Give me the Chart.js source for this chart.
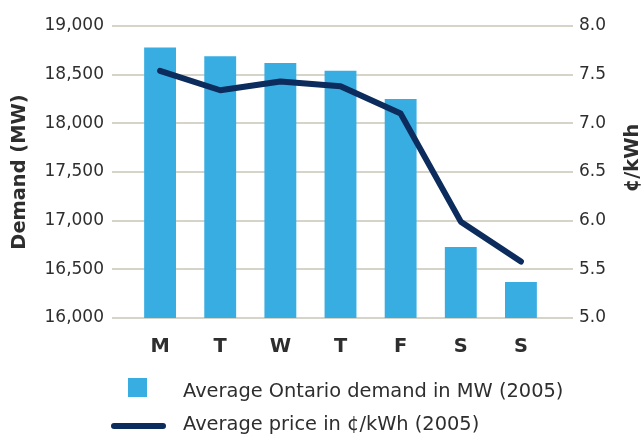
<!DOCTYPE html>
<html>
<head>
<meta charset="utf-8">
<script src="https://cdn.jsdelivr.net/npm/chart.js@4.4.1/dist/chart.umd.min.js"></script>
<style>
  html, body { margin: 0; padding: 0; background: #fff; }
  #wrap { width: 641px; height: 439px; }
</style>
</head>
<body>
<div id="wrap"><canvas id="chart" width="641" height="439"></canvas></div>
<script>
const days = ["M", "T", "W", "T", "F", "S", "S"];
const demandMW = [18780, 18690, 18620, 18540, 18250, 16730, 16370];
const priceCents = [7.54, 7.34, 7.43, 7.38, 7.1, 5.99, 5.58];
const demandLabel = "Average Ontario demand in MW (2005)";
const priceLabel = "Average price in \u00a2/kWh (2005)";

const BAR_BLUE = "#38ade2";
const NAVY = "#0b2c5c";
const TEXT = "#2e2e2e";
const GRID = "#d6d4c8";
const FONT = '"DejaVu Sans", sans-serif';

// keep the plot box where the original has it
const fixVertical = (width) => (s) => {
  s.width = width;
  s.paddingTop = 0;
  s.paddingBottom = 0;
};

// gridlines in the original run past the bar area on both sides
const wideGrid = {
  id: "wideGrid",
  beforeDatasetsDraw(chart) {
    const { ctx, chartArea } = chart;
    const y = chart.scales.y;
    ctx.save();
    ctx.strokeStyle = GRID;
    ctx.lineWidth = 2;
    y.ticks.forEach((t) => {
      const py = Math.round(y.getPixelForValue(t.value));
      ctx.beginPath();
      ctx.moveTo(chartArea.left - 18, py);
      ctx.lineTo(chartArea.right + 22, py);
      ctx.stroke();
    });
    ctx.restore();
  },
  afterDraw(chart) {
    const { ctx } = chart;
    ctx.save();
    // right axis title, reading bottom to top
    ctx.fillStyle = TEXT;
    ctx.font = "bold 19.4px " + FONT;
    ctx.textAlign = "center";
    ctx.textBaseline = "middle";
    ctx.translate(633, 158);
    ctx.rotate(-Math.PI / 2);
    ctx.fillText("\u00a2/kWh", 0, 0);
    ctx.restore();

    // legend
    ctx.save();
    ctx.fillStyle = BAR_BLUE;
    ctx.fillRect(128, 378, 19, 19);
    ctx.strokeStyle = NAVY;
    ctx.lineWidth = 6;
    ctx.lineCap = "round";
    ctx.beginPath();
    ctx.moveTo(114, 426);
    ctx.lineTo(163, 426);
    ctx.stroke();
    ctx.fillStyle = TEXT;
    ctx.font = "19.4px " + FONT;
    ctx.textAlign = "left";
    ctx.textBaseline = "alphabetic";
    ctx.fillText(demandLabel, 183, 397);
    ctx.fillText(priceLabel, 183, 430);
    ctx.restore();
  },
};

new Chart(document.getElementById("chart"), {
  data: {
    labels: days,
    datasets: [
      {
        type: "line",
        label: priceLabel,
        data: priceCents,
        yAxisID: "y2",
        borderColor: NAVY,
        borderWidth: 6,
        borderCapStyle: "round",
        borderJoinStyle: "round",
        tension: 0,
        pointRadius: 0,
        order: 0,
      },
      {
        type: "bar",
        label: demandLabel,
        data: demandMW,
        yAxisID: "y",
        backgroundColor: BAR_BLUE,
        barPercentage: 0.53,
        categoryPercentage: 1,
        order: 1,
      },
    ],
  },
  options: {
    responsive: false,
    animation: false,
    layout: { padding: { top: 26, bottom: 81, left: 0, right: 0 } },
    plugins: { legend: { display: false }, tooltip: { enabled: false } },
    scales: {
      x: {
        afterFit: (s) => {
          s.height = 40;
          s.paddingLeft = 0;
          s.paddingRight = 0;
        },
        grid: { display: false },
        border: { display: false },
        ticks: {
          color: TEXT,
          font: { family: FONT, size: 19.4, weight: "bold" },
          padding: 9,
        },
      },
      y: {
        position: "left",
        min: 16000,
        max: 19000,
        afterFit: fixVertical(130),
        grid: { display: false, drawTicks: false },
        border: { display: false },
        ticks: {
          stepSize: 500,
          color: TEXT,
          padding: 26,
          font: { family: FONT, size: 17 },
          callback: (v) => v.toLocaleString("en-US"),
        },
        title: {
          display: true,
          text: "Demand (MW)",
          color: TEXT,
          font: { family: FONT, size: 19.4, weight: "bold" },
          padding: { top: 8, bottom: 0 },
        },
      },
      y2: {
        position: "right",
        min: 5,
        max: 8,
        afterFit: fixVertical(90),
        grid: { display: false, drawTicks: false },
        border: { display: false },
        ticks: {
          stepSize: 0.5,
          color: TEXT,
          padding: 28,
          font: { family: FONT, size: 17 },
          callback: (v) => v.toFixed(1),
        },
      },
    },
  },
  plugins: [wideGrid],
});
</script>
</body>
</html>
